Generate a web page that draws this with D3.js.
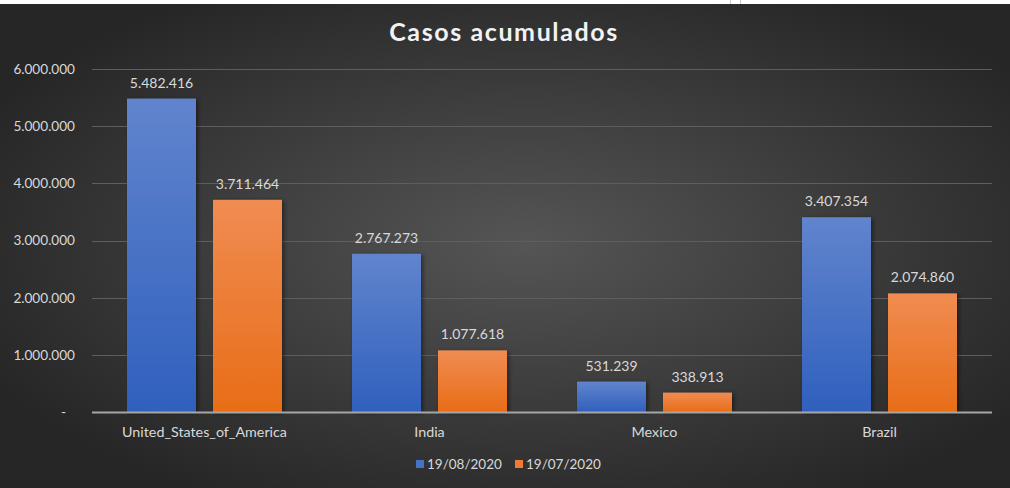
<!DOCTYPE html>
<html><head><meta charset="utf-8">
<script src="https://cdn.jsdelivr.net/npm/d3@7"></script>
<style>html,body{margin:0;padding:0;background:#fff;overflow:hidden}svg{display:block}</style>
</head><body>
<script>
const categories = ["United_States_of_America","India","Mexico","Brazil"];
const seriesNames = ["19/08/2020","19/07/2020"];
const casesAug = [5482416, 2767273, 531239, 3407354];
const casesJul = [3711464, 1077618, 338913, 2074860];
const yTicks = [0,1000000,2000000,3000000,4000000,5000000,6000000];
const chartTitle = "Casos acumulados";

const W = 1010, H = 488;
const svg = d3.select("body").append("svg").attr("width", W).attr("height", H);
const defs = svg.append("defs");

const bg = defs.append("radialGradient").attr("id","bg").attr("cx","52%").attr("cy","50%").attr("r","60%");
bg.append("stop").attr("offset","0%").attr("stop-color","#555555");
bg.append("stop").attr("offset","100%").attr("stop-color","#262626");

const gBlue = defs.append("linearGradient").attr("id","gBlue").attr("x1",0).attr("y1",0).attr("x2",0).attr("y2",1);
gBlue.append("stop").attr("offset","0%").attr("stop-color","#6184cd");
gBlue.append("stop").attr("offset","100%").attr("stop-color","#2f60bd");
const gOrange = defs.append("linearGradient").attr("id","gOrange").attr("x1",0).attr("y1",0).attr("x2",0).attr("y2",1);
gOrange.append("stop").attr("offset","0%").attr("stop-color","#f08c52");
gOrange.append("stop").attr("offset","100%").attr("stop-color","#e86d17");

const sh = defs.append("filter").attr("id","sh").attr("x","-20%").attr("y","-20%").attr("width","150%").attr("height","150%");
sh.append("feDropShadow").attr("dx",2).attr("dy",1).attr("stdDeviation",2).attr("flood-color","#000").attr("flood-opacity",0.45);

svg.append("rect").attr("x",0).attr("y",0).attr("width",W).attr("height",H).attr("fill","url(#bg)");
svg.append("rect").attr("x",0).attr("y",0).attr("width",W).attr("height",4).attr("fill","#fff");
svg.append("line").attr("x1",730.5).attr("x2",730.5).attr("y1",0).attr("y2",4).attr("stroke","#c8c8c8");
svg.append("line").attr("x1",740.5).attr("x2",740.5).attr("y1",0).attr("y2",4).attr("stroke","#c8c8c8");

const font = "Lato, 'Open Sans', sans-serif";
const pLeft = 92, pRight = 992, pTop = 69, pBottom = 412;

const x = d3.scaleBand().domain(categories).range([pLeft, pRight]).paddingInner(0).paddingOuter(0);
const y = d3.scaleLinear().domain([0, 6000000]).range([pBottom, pTop]);

svg.append("text").attr("x", 504).attr("y", 41).attr("text-anchor","middle")
  .attr("font-family", font).attr("font-weight","bold").attr("font-size", 25)
  .attr("letter-spacing", 1.6).attr("fill","#f2f2f2").text(chartTitle);

// gridlines
svg.append("g").selectAll("line").data(yTicks.filter(d=>d>0)).join("line")
  .attr("x1", pLeft).attr("x2", pRight).attr("y1", d=>Math.round(y(d))+0.5).attr("y2", d=>Math.round(y(d))+0.5)
  .attr("stroke","#5e5e5e").attr("stroke-width",1);

const fmt = d => d === 0 ? "-" : d3.format(",")(d).replace(/,/g,".");

// y axis labels
const yAxis = d3.axisLeft(y).tickValues(yTicks).tickSize(0).tickPadding(0).tickFormat(fmt);
const ya = svg.append("g").attr("transform", `translate(${pLeft-17},0)`).call(yAxis);
ya.select(".domain").remove();
ya.selectAll("text").attr("font-family", font).attr("font-size", 13.6).attr("fill","#d9d9d9")
  .attr("dx", d => d === 0 ? -9 : 0);

// bars
const bw = 69, gap = 17;
const series = [
  {name: seriesNames[0], values: casesAug, fill: "url(#gBlue)", off: -(bw + gap/2)},
  {name: seriesNames[1], values: casesJul, fill: "url(#gOrange)", off: gap/2}
];
series.forEach(s => {
  const g = svg.append("g");
  g.selectAll("rect").data(categories).join("rect")
    .attr("x", c => x(c) + x.bandwidth()/2 + s.off)
    .attr("y", (c,i) => y(s.values[i]))
    .attr("width", bw)
    .attr("height", (c,i) => y(0) - y(s.values[i]))
    .attr("fill", s.fill).attr("filter","url(#sh)");
  g.selectAll("text").data(categories).join("text")
    .attr("x", c => x(c) + x.bandwidth()/2 + s.off + bw/2)
    .attr("y", (c,i) => y(s.values[i]) - 11)
    .attr("text-anchor","middle").attr("font-family", font).attr("font-size", 14)
    .attr("fill","#d9d9d9").text((c,i) => fmt(s.values[i]));
});

// baseline
svg.append("line").attr("x1", pLeft).attr("x2", pRight).attr("y1", pBottom+0.5).attr("y2", pBottom+0.5)
  .attr("stroke","#a6a6a6").attr("stroke-width",2);

// x axis labels
const xAxis = d3.axisBottom(x).tickSize(0).tickPadding(0);
const xa = svg.append("g").attr("transform", `translate(0,${pBottom+25})`).call(xAxis);
xa.select(".domain").remove();
xa.selectAll("text").attr("font-family", font).attr("font-size", 14.3).attr("fill","#d9d9d9").attr("dy","0");

// legend
const legend = svg.append("g");
const legItems = [{name: seriesNames[0], color:"#4472c4", x:416},{name: seriesNames[1], color:"#ed7d31", x:515}];
legItems.forEach(l => {
  legend.append("rect").attr("x", l.x).attr("y", 460).attr("width", 8).attr("height", 8).attr("fill", l.color);
  legend.append("text").attr("x", l.x + 11).attr("y", 469).attr("font-family", font).attr("font-size", 13.5)
    .attr("fill","#d9d9d9").text(l.name);
});
</script>
</body></html>
